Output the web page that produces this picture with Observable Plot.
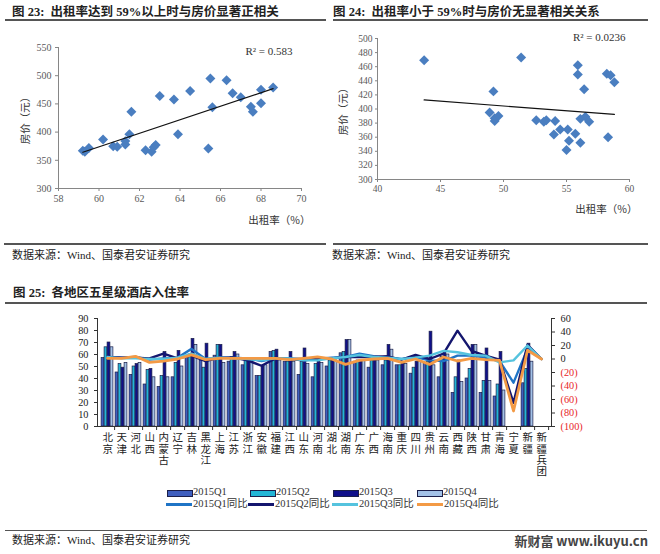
<!DOCTYPE html>
<html><head><meta charset="utf-8">
<script src="https://cdn.jsdelivr.net/npm/d3@7"></script>
<script src="https://cdn.jsdelivr.net/npm/@observablehq/plot@0.6"></script>
<style>
body{margin:0;background:#fff}
#root{position:relative;width:660px;height:554px;overflow:hidden;background:#fff;font-family:"Liberation Serif","Noto Sans CJK SC",serif;color:#222}
.abs{position:absolute;white-space:nowrap;line-height:1}
.title{font-weight:bold;font-size:12.5px}
.rule{position:absolute;background:#555}
.src{font-size:11px;color:#222}
.leg{font-size:10.5px;color:#333}
.vlab{position:absolute;writing-mode:vertical-rl;text-orientation:upright;font-family:"Noto Sans CJK SC";font-size:10.5px;line-height:1;letter-spacing:0.8px;color:#222;white-space:nowrap}
svg{position:absolute}
</style></head><body><div id="root"></div>
<script>
// ---------- data ----------
const s1x = [61.6, 63.0, 63.7, 64.5, 65.5, 65.6, 66.3, 66.6, 67.0, 67.5, 67.6, 68.0, 68.0, 68.6, 59.2, 59.3, 59.5, 60.2, 60.7, 60.9, 61.3, 61.3, 61.5, 62.3, 62.6, 62.7, 62.8, 63.9, 65.4];
const s1y = [436, 464, 458, 473, 495, 444, 492, 469, 462, 445, 436, 475, 451, 479, 367, 365, 372, 387, 375, 374, 384, 378, 396, 368, 365, 373, 377, 396, 371];
const s2x = [43.7, 51.4, 49.2, 48.9, 49.3, 49.6, 49.3, 55.9, 55.9, 56.4, 58.2, 58.5, 58.8, 56.1, 56.5, 56.8, 52.6, 53.2, 53.4, 54.1, 54.0, 54.5, 55.1, 55.2, 55.0, 55.7, 56.1, 58.3];
const s2y = [469, 473, 425, 395, 387, 390, 383, 462, 449, 428, 450, 448, 438, 386, 389, 382, 384, 382, 384, 383, 364, 371, 371, 355, 342, 365, 352, 360];
const s1xTicks = [58, 60, 62, 64, 66, 68, 70];
const s1yTicks = [300, 350, 400, 450, 500, 550];
const s2xTicks = [40, 45, 50, 55, 60];
const s2yTicks = [300, 320, 340, 360, 380, 400, 420, 440, 460, 480, 500];
const r2a = "R² = 0.583";
const r2b = "R² = 0.0236";

const regions = ["北京","天津","河北","山西","内蒙古","辽宁","吉林","黑龙江","上海","江苏","浙江","安徽","福建","江西","山东","河南","湖北","湖南","广东","广西","海南","重庆","四川","贵州","云南","西藏","陕西","甘肃","青海","宁夏","新疆","新疆兵团"];
const q1 = [57,45,43,35,33,41,58,55,59,54,51,42,62,54,43,41,50,61,54,49,51,51,44,52,41,28,40,28,25,null,36,null];
const q2 = [66,52,50,47,42,53,60,49,68,58,57,42,63,54,54,52,55,62,55,55,55,51,49,54,58,41,48,38,35,null,48,null];
const q3 = [70,49,52,48,62,63,73,69,68,62,55,50,64,62,65,54,55,72,55,55,68,52,54,79,62,55,68,65,62,null,69,null];
const q4 = [66,53,53,41,41,50,68,55,53,60,55,51,55,54,52,53,55,72,55,55,64,52,54,51,60,37,68,38,30,null,54,null];
const yoy1 = [2,2,3,-1,1,2,15,0,2,2,1,-3,1,1,0,0,2,3,8,4,2,0,3,-2,-3,5,5,2,-3,-35,15,0];
const yoy2 = [3,2,2,1,8,1,5,-3,2,2,-2,-10,1,0,-2,0,1,3,3,3,4,-1,6,0,8,42,12,5,-1,-65,21,0];
const yoy3 = [3,1,1,0,0,2,8,0,2,1,0,-2,1,1,-2,-2,1,3,6,3,2,0,2,5,12,10,6,5,-5,-2,20,0];
const yoy4 = [1,1,4,-5,-3,0,6,-1,1,1,1,1,1,-1,1,3,0,-8,-2,0,1,-5,0,-8,3,-3,1,-1,-2,-77,13,0];
const leftTicks = [0,10,20,30,40,50,60,70,80,90];
const rightTicks = [-100,-80,-60,-40,-20,0,20,40,60];
const barNames = ["2015Q1","2015Q2","2015Q3","2015Q4"];
const lineNames = ["2015Q1同比","2015Q2同比","2015Q3同比","2015Q4同比"];

// ---------- styles ----------
const barColors = ["#3f5fbf","#22b5d6","#10108a","#a3c2e8"];
const lineColors = ["#1f74c6","#14166e","#55c3de","#f39a45"];
const root = document.getElementById("root");
function add(html){ root.insertAdjacentHTML("beforeend", html); }
function place(svg, left, top){ svg.style.left = left+"px"; svg.style.top = top+"px"; root.appendChild(svg); }

// headers / rules / sources
add(`<div class="abs title" style="left:12px;top:6px">图 23:&nbsp; 出租率达到 59%以上时与房价显著正相关</div>`);
add(`<div class="abs title" style="left:333px;top:6px">图 24:&nbsp; 出租率小于 59%时与房价无显著相关关系</div>`);
add(`<div class="rule" style="left:5px;top:19px;width:321px;height:2px"></div>`);
add(`<div class="rule" style="left:333px;top:19px;width:315px;height:2px"></div>`);
add(`<div class="rule" style="left:4px;top:243px;width:322px;height:1.5px"></div>`);
add(`<div class="rule" style="left:333px;top:243px;width:315px;height:1.5px"></div>`);
add(`<div class="abs src" style="left:12px;top:249.5px">数据来源：Wind、国泰君安证券研究</div>`);
add(`<div class="abs src" style="left:332px;top:249.5px">数据来源：Wind、国泰君安证券研究</div>`);
add(`<div class="abs title" style="left:13px;top:287px">图 25:&nbsp; 各地区五星级酒店入住率</div>`);
add(`<div class="rule" style="left:5px;top:302px;width:642px;height:2px"></div>`);
add(`<div class="rule" style="left:5px;top:529.5px;width:642px;height:1.5px"></div>`);
add(`<div class="abs src" style="left:12px;top:534.5px">数据来源：Wind、国泰君安证券研究</div>`);
add(`<div class="abs" style="right:12px;top:534px;font-size:13px;font-weight:bold;color:#444;font-family:'Noto Sans CJK SC','DejaVu Sans',sans-serif">新财富 www.ikuyu.cn</div>`);

// ---------- scatter 1 ----------
const pts1 = s1x.map((x,i)=>({x, y:s1y[i]}));
const cjk = "Noto Sans CJK SC";
place(Plot.plot({
  width:330, height:240, marginLeft:58, marginRight:29, marginTop:47, marginBottom:52,
  style:{fontFamily:"Liberation Serif, serif", fontSize:"10px", background:"transparent", overflow:"visible"},
  x:{domain:[58,70]}, y:{domain:[300,550]},
  marks:[
    Plot.frame({anchor:"left", stroke:"#868686"}),
    Plot.frame({anchor:"bottom", stroke:"#868686"}),
    Plot.axisX(s1xTicks, {tickSize:3, tickPadding:3, label:null, stroke:"#868686", fill:"#595959"}),
    Plot.axisY(s1yTicks, {tickSize:3, tickPadding:4, label:null, stroke:"#868686", fill:"#595959"}),
    Plot.dot(pts1, {x:"x", y:"y", symbol:"diamond2", r:4.5, fill:"#4a7ec0", stroke:"none"}),
    Plot.linearRegressionY(pts1, {x:"x", y:"y", stroke:"#111", strokeWidth:1.2, ci:0}),
    Plot.text([r2a], {frameAnchor:"top-right", dx:-9, dy:4, lineAnchor:"middle", fontSize:11, fill:"#333"}),
    Plot.text(["出租率（%）"], {frameAnchor:"bottom-right", dx:9, dy:32, lineAnchor:"middle", fontSize:10.5, fill:"#333", fontFamily:cjk}),
    Plot.text(["房价（元）"], {frameAnchor:"left", dx:-33, rotate:-90, textAnchor:"middle", lineAnchor:"middle", fontSize:10.5, fill:"#333", fontFamily:cjk})
  ]
}), 0, 0);

// ---------- scatter 2 ----------
const pts2 = s2x.map((x,i)=>({x, y:s2y[i]}));
place(Plot.plot({
  width:330, height:240, marginLeft:47, marginRight:31, marginTop:38, marginBottom:61,
  style:{fontFamily:"Liberation Serif, serif", fontSize:"9.5px", background:"transparent", overflow:"visible"},
  x:{domain:[40,60]}, y:{domain:[300,500]},
  marks:[
    Plot.frame({anchor:"left", stroke:"#868686"}),
    Plot.frame({anchor:"bottom", stroke:"#868686"}),
    Plot.axisX(s2xTicks, {tickSize:3, tickPadding:3, label:null, stroke:"#868686", fill:"#595959"}),
    Plot.axisY(s2yTicks, {tickSize:2, tickPadding:3, label:null, stroke:"#868686", fill:"#595959"}),
    Plot.dot(pts2, {x:"x", y:"y", symbol:"diamond2", r:4.5, fill:"#4a7ec0", stroke:"none"}),
    Plot.linearRegressionY(pts2, {x:"x", y:"y", stroke:"#111", strokeWidth:1.2, ci:0}),
    Plot.text([r2b], {frameAnchor:"top-right", dx:-4, dy:-1, lineAnchor:"middle", fontSize:11, fill:"#333"}),
    Plot.text(["出租率（%）"], {frameAnchor:"bottom-right", dx:8, dy:30, lineAnchor:"middle", fontSize:10.5, fill:"#333", fontFamily:cjk}),
    Plot.text(["房价（元）"], {frameAnchor:"left", dx:-34, rotate:-90, textAnchor:"middle", lineAnchor:"middle", fontSize:10.5, fill:"#333", fontFamily:cjk})
  ]
}), 330, 0);

// ---------- bar + line chart ----------
const W=660, H=185, mL=97, mR=109, mT=18, mB=59;
const TOP=300;
const step = (W-mL-mR)/regions.length;
const bw = 3.0;
const g0 = (step - 4*bw)/2;
const series = [q1,q2,q3,q4];
const yoys = [yoy1,yoy2,yoy3,yoy4];
const conv = v => (v+100)*90/160;           // right axis (-100..60) onto left axis (0..90)
const inv = d => Math.round(d*160/90 - 100);
const fmtR = d => { const v = inv(d); return v < 0 ? `(${-v})` : `${v}`; };
const barMarks = series.map((arr,q)=>Plot.barY(
  regions.map((r,i)=>({region:r, v:arr[i]})).filter(d=>d.v!=null),
  {x:"region", y:"v", fill:barColors[q], stroke:"#1b1f4a", strokeWidth:0.7,
   insetLeft:g0+q*bw, insetRight:step-g0-(q+1)*bw}));
const lineMarks = yoys.map((arr,q)=>Plot.line(
  regions.map((r,i)=>({region:r, v:conv(arr[i])})),
  {x:"region", y:"v", stroke:lineColors[q], strokeWidth: q===3 ? 2.8 : 2.4, strokeLinejoin:"round"}));
const bar = Plot.plot({
  width:W, height:H, marginLeft:mL, marginRight:mR, marginTop:mT, marginBottom:mB,
  style:{fontFamily:"Liberation Serif, serif", fontSize:"10.3px", background:"transparent", overflow:"visible"},
  x:{domain:regions, padding:0}, y:{domain:[0,90]},
  marks:[
    ...barMarks,
    ...lineMarks,
    Plot.frame({anchor:"left", stroke:"#333"}),
    Plot.frame({anchor:"right", stroke:"#333"}),
    Plot.frame({anchor:"bottom", stroke:"#333"}),
    Plot.axisY(leftTicks, {anchor:"left", tickSize:3, tickPadding:6, label:null, stroke:"#333", fill:"#222"}),
    Plot.axisY(rightTicks.filter(v=>v>=0).map(conv), {anchor:"right", tickSize:3, tickPadding:6, tickFormat:fmtR, label:null, stroke:"#333", fill:"#222"}),
    Plot.axisY(rightTicks.filter(v=>v<0).map(conv), {anchor:"right", tickSize:3, tickPadding:6, tickFormat:fmtR, label:null, stroke:"#333", fill:"#e8262a"}),
    Plot.axisX({tickSize:4, tickFormat:()=>"", dx:step/2, stroke:"#333", label:null})
  ]
});
place(bar, 0, TOP);
// category labels: vertical upright text, positioned with Plot's own x scale
const xs = bar.scale("x");
const ys = bar.scale("y");
const baseY = TOP + ys.apply(0);
regions.forEach(r => {
  const cx = xs.apply(r) + xs.bandwidth/2;
  add(`<div class="vlab" style="left:${(cx-5.25).toFixed(2)}px;top:${(baseY+6).toFixed(2)}px">${r}</div>`);
});

// ---------- legend ----------
const legX1 = [167, 250, 333, 417];
const legX2 = [166, 248, 332, 417];
barNames.forEach((n,q)=>{
  add(`<div class="abs" style="left:${legX1[q]}px;top:489.5px;width:24px;height:5px;background:${barColors[q]};border:1px solid #1b1f4a"></div>`);
  add(`<div class="abs leg" style="left:${legX1[q]+26}px;top:487px">${n}</div>`);
});
lineNames.forEach((n,q)=>{
  add(`<div class="abs" style="left:${legX2[q]}px;top:502.5px;width:26px;height:3px;background:${lineColors[q]}"></div>`);
  add(`<div class="abs leg" style="left:${legX2[q]+27}px;top:498.5px">${n}</div>`);
});
</script></body></html>
